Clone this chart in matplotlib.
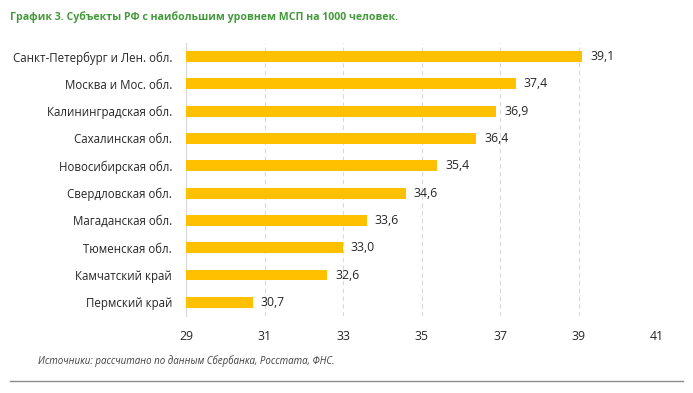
import numpy as np
import matplotlib.pyplot as plt

plt.rcParams['font.family'] = ['Open Sans', 'DejaVu Sans']

regions = ['Санкт-Петербург и Лен. обл.', 'Москва и Мос. обл.', 'Калининградская обл.',
           'Сахалинская обл.', 'Новосибирская обл.', 'Свердловская обл.',
           'Магаданская обл.', 'Тюменская обл.', 'Камчатский край', 'Пермский край']
values = [39.1, 37.4, 36.9, 36.4, 35.4, 34.6, 33.6, 33.0, 32.6, 30.7]
xticks = [29, 31, 33, 35, 37, 39, 41]

fig = plt.figure(figsize=(6.93, 3.93), dpi=100)
ax = fig.add_axes([0.2684, 0.196, 0.6797, 0.695])

y = np.arange(len(regions))
ax.barh(y, np.array(values) - 29, left=29, height=0.4, color='#FFC000', zorder=3)
for yi, v in zip(y, values):
    ax.text(v + 0.2, yi, f'{v:.1f}'.replace('.', ','), va='center', ha='left',
            fontsize=8.8, color='#262626')

ax.set_xlim(29, 41)
ax.set_ylim(len(regions) - 0.5, -0.5)
ax.set_yticks(y)
ax.set_yticklabels(regions, fontsize=8.3, color='#262626')
ax.set_xticks(xticks)
ax.set_xticklabels([str(t) for t in xticks], fontsize=8.8, color='#262626')
ax.tick_params(length=0)
ax.tick_params(axis='y', pad=10)
ax.tick_params(axis='x', pad=10)
ax.grid(axis='x', color='#d9d9d9', linestyle=(0, (4, 3)), linewidth=0.8, zorder=0)
for s in ['top', 'right', 'bottom']:
    ax.spines[s].set_visible(False)
ax.spines['left'].set_color('#d9d9d9')
ax.spines['left'].set_linewidth(0.8)

fig.text(10 / 693, 1 - 17 / 393, 'График 3. Субъекты РФ с наибольшим уровнем МСП на 1000 человек.',
         fontsize=7.6, fontweight='bold', color='#439a3a', va='center', ha='left')
fig.text(38 / 693, 1 - 361 / 393, 'Источники: рассчитано по данным Сбербанка, Росстата, ФНС.',
         fontsize=7, style='italic', color='#404040', va='center', ha='left')
fig.add_artist(plt.Line2D([10 / 693, 683 / 693], [1 - 381 / 393] * 2, color='#8c8c8c', linewidth=1))

fig.savefig('out.png', dpi=100)
